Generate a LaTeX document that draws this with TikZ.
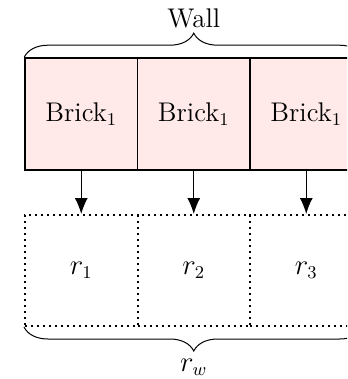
\documentclass[tikz,border=0pt]{standalone}
\usetikzlibrary{arrows.meta,decorations.pathreplacing}
\definecolor{brickfill}{RGB}{255,233,233}
\begin{document}
\begin{tikzpicture}[x=0.5pt,y=-0.5pt,
  every node/.style={font=\fontsize{13.5}{16}\selectfont},
  brickbox/.style={draw,line width=0.8pt,fill=brickfill,minimum width=56.25pt,minimum height=56pt,inner sep=0pt},
  regbox/.style={draw,line width=1pt,dotted,minimum width=56.25pt,minimum height=55.5pt,inner sep=0pt},
  bracestyle/.style={decorate,decoration={brace,amplitude=12pt},line width=0.5pt},
  arr/.style={-{Latex[length=8pt,width=6.5pt]},line width=0.6pt}]
\clip (0,0) rectangle (347,379);
\useasboundingbox (0,0) rectangle (347,379);
\node[brickbox] (b1) at (81.25,114) {Brick$_1$};
\node[brickbox] (b2) at (193.75,114) {Brick$_1$};
\node[brickbox] (b3) at (306.25,114) {Brick$_1$};
\node[regbox] (r1) at (81.25,270.5) {$r_1$};
\node[regbox] (r2) at (193.75,270.5) {$r_2$};
\node[regbox] (r3) at (306.25,270.5) {$r_3$};
\draw[arr] (b1.south) -- (r1.north);
\draw[arr] (b2.south) -- (r2.north);
\draw[arr] (b3.south) -- (r3.north);
\draw[bracestyle] (b1.north west) -- (b3.north east);
\draw[bracestyle] (r3.south east) -- (r1.south west);
\node (wall) at (193.75,18) {Wall};
\node (rw) at (193.75,367) {$r_w$};
\end{tikzpicture}
\end{document}
